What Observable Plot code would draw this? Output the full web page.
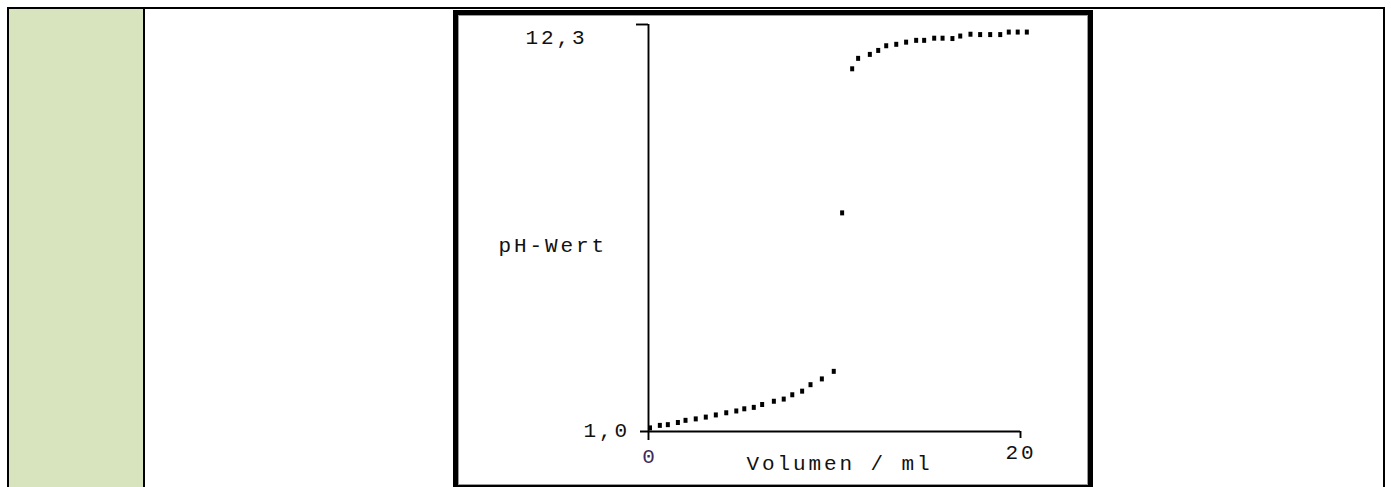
<!DOCTYPE html>
<html>
<head>
<meta charset="utf-8">
<script src="https://cdn.jsdelivr.net/npm/d3@7"></script>
<script src="https://cdn.jsdelivr.net/npm/@observablehq/plot@0.6"></script>
<style>
  html, body { margin: 0; padding: 0; background: #fff; }
  #page { position: relative; width: 1391px; height: 487px; overflow: hidden; background: #fff; }
  .blk { position: absolute; background: #000; }
  #green { position: absolute; left: 9px; top: 9px; width: 134px; height: 478px; background: #d7e4bd; }
  #frame { position: absolute; left: 453px; top: 10px; width: 640px; height: 480px; box-sizing: border-box; border: 5px solid #000; background: #fff; }
  #inner { width: 630px; height: 470px; box-sizing: border-box; border: 1px solid #9a9a9a; background: #fff; }
  #inner svg text { letter-spacing: 2.9px; }
</style>
</head>
<body>
<div id="page">
  <div id="green"></div>
  <div class="blk" style="left:7px;top:7px;width:1378px;height:2px"></div>
  <div class="blk" style="left:7px;top:7px;width:2px;height:480px"></div>
  <div class="blk" style="left:143px;top:7px;width:2px;height:480px"></div>
  <div class="blk" style="left:1383px;top:7px;width:2px;height:480px"></div>
  <div id="frame"><div id="inner"></div></div>
</div>
<script>
// Titration data
const volume = [
  0.08, 0.61, 1.04, 1.58, 1.99, 2.54, 3.08, 3.62, 4.18, 4.72,
  5.15, 5.66, 6.11, 6.74, 7.27, 7.73, 8.26, 8.71, 9.32, 9.96,
  10.41,
  10.95, 11.27, 11.90, 12.35, 12.78, 13.32, 13.85, 14.39, 14.82, 15.36,
  15.81, 16.34, 16.76, 17.31, 17.83, 18.37, 18.91, 19.37, 19.85, 20.34
];
const ph = [
  1.10, 1.17, 1.19, 1.25, 1.31, 1.35, 1.40, 1.46, 1.52, 1.57,
  1.63, 1.67, 1.75, 1.84, 1.90, 2.02, 2.12, 2.30, 2.46, 2.67,
  7.07,
  11.07, 11.36, 11.47, 11.58, 11.71, 11.75, 11.81, 11.86, 11.86, 11.92,
  11.92, 11.91, 11.98, 12.03, 12.02, 12.02, 12.02, 12.09, 12.09, 12.09
];
const xTicks = [0, 20];
const yTicks = [1.0, 12.3];
const xLabel = "Volumen / ml";
const yLabel = "pH-Wert";

const fmtY = d => d.toFixed(1).replace(".", ",");
const fmtX = d => String(d);

const rectSym = {
  draw(ctx) {
    ctx.moveTo(-2, -2.5);
    ctx.lineTo(2, -2.5);
    ctx.lineTo(2, 2.5);
    ctx.lineTo(-2, 2.5);
    ctx.closePath();
  }
};

const axisStyle = { stroke: "#000", strokeWidth: 1.9 };
const textStyle = { fill: "#111", fontFamily: "Liberation Mono", fontSize: 21 };
const idx = d3.range(volume.length);

const chart = Plot.plot({
  width: 628,
  height: 468,
  marginLeft: 189,
  marginRight: 67,
  marginTop: 8,
  marginBottom: 53,
  x: { domain: [xTicks[0], xTicks[1]], axis: null },
  y: { domain: [yTicks[0], yTicks[1]], axis: null },
  style: { background: "white", fontFamily: "Liberation Mono", fontSize: "21px", overflow: "visible" },
  marks: [
    // y axis line (extends below x axis to form the 0 tick)
    Plot.ruleX([xTicks[0]], { y1: yTicks[1], y2: yTicks[0], insetBottom: -9, ...axisStyle }),
    // top tick at 12,3
    Plot.ruleY([yTicks[1]], { x1: xTicks[0], x2: xTicks[0], insetLeft: -12, ...axisStyle }),
    // x axis line
    Plot.ruleY([yTicks[0]], { x1: xTicks[0], x2: xTicks[1], insetLeft: -8, ...axisStyle }),
    // tick at 20
    Plot.ruleX([xTicks[1]], { y1: yTicks[0], y2: yTicks[0], insetBottom: -7, ...axisStyle }),
    // data points
    Plot.dot(idx, { x: i => volume[i], y: i => ph[i], symbol: rectSym, fill: "#000", stroke: "none" }),
    // y tick labels
    Plot.text([yTicks[1]], { x: xTicks[0], y: d => d, text: fmtY, textAnchor: "start", dx: -123, dy: 13, ...textStyle }),
    Plot.text([yTicks[0]], { x: xTicks[0], y: d => d, text: fmtY, textAnchor: "start", dx: -65, dy: -1, ...textStyle }),
    // x tick labels
    Plot.text([xTicks[0]], { x: d => d, y: yTicks[0], text: fmtX, textAnchor: "middle", dx: 1.5, dy: 25, ...textStyle, fill: "#3e2a5a" }),
    Plot.text([xTicks[1]], { x: d => d, y: yTicks[0], text: fmtX, textAnchor: "middle", dx: 0.5, dy: 21, ...textStyle }),
    // axis labels
    Plot.text([xLabel], { x: (xTicks[0] + xTicks[1]) / 2, y: yTicks[0], text: d => d, textAnchor: "middle", dx: 5, dy: 32, ...textStyle }),
    Plot.text([yLabel], { x: xTicks[0], y: (yTicks[0] + yTicks[1]) / 2, text: d => d, textAnchor: "start", dx: -150, dy: 17.5, ...textStyle })
  ]
});
document.getElementById("inner").appendChild(chart);
</script>
</body>
</html>
